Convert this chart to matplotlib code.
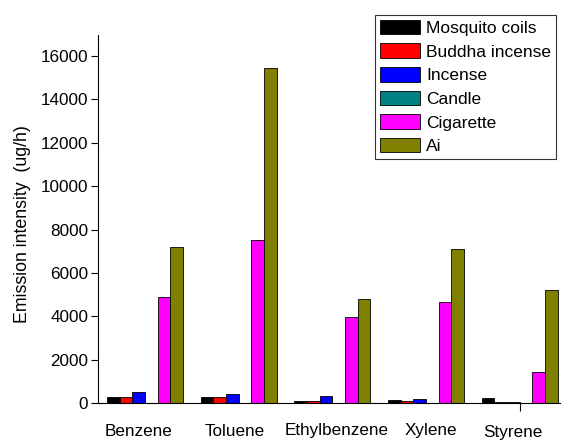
import matplotlib
matplotlib.use("Agg")
import matplotlib.pyplot as plt
import matplotlib.transforms as mtransforms
import numpy as np

plt.rcParams['font.family'] = ['Liberation Sans', 'DejaVu Sans']
plt.rcParams['font.size'] = 12.5

categories = ["Benzene", "Toluene", "Ethylbenzene", "Xylene", "Styrene"]
series = ["Mosquito coils", "Buddha incense", "Incense", "Candle", "Cigarette", "Ai"]
mosquito = [290, 290, 90, 140, 215]
buddha = [290, 260, 100, 80, 60]
incense = [490, 400, 300, 170, 60]
candle = [15, 15, 10, 10, 15]
cigarette = [4900, 7500, 3950, 4650, 1450]
ai = [7200, 15450, 4800, 7100, 5200]
values = [mosquito, buddha, incense, candle, cigarette, ai]
colors = ["#000000", "#FF0000", "#0000FF", "#008080", "#FF00FF", "#808000"]
yticks = [0, 2000, 4000, 6000, 8000, 10000, 12000, 14000, 16000]

W, H = 563, 441
fig = plt.figure(figsize=(W / 100, H / 100), dpi=100)
ax = fig.add_axes([98 / W, 1 - 403 / H, (560 - 98) / W, (403 - 35) / H])

x = np.arange(len(categories))
bw = 0.135
for i, (name, vals, c) in enumerate(zip(series, values, colors)):
    ax.bar(x + (i - 2.5) * bw, vals, bw, color=c, edgecolor='black',
           linewidth=0.6, label=name, zorder=2)

ax.set_xlim(-0.5, 4.43)
ax.set_ylim(0, 16970)
ax.set_yticks(yticks)
ax.set_yticklabels([str(v) for v in yticks], fontsize=12.3)
ax.tick_params(axis='y', direction='out', length=5, width=0.8, pad=2)
ax.set_xticks([])
ax.set_xticks([4], minor=True)
ax.tick_params(axis='x', which='minor', direction='out', length=6, width=0.8, labelbottom=False)
ax.spines['top'].set_visible(False)
ax.spines['right'].set_visible(False)
ax.spines['left'].set_linewidth(0.8)
ax.spines['bottom'].set_linewidth(0.8)

trans = mtransforms.blended_transform_factory(ax.transData, fig.transFigure)
label_off = [-0.07, -0.04, 0.045, 0.05, -0.07]
label_y = [431, 431, 431, 431, 433]
for xi, cat, off, ly in zip(x, categories, label_off, label_y):
    ax.text(xi + off, 1 - ly / H, cat, transform=trans, ha='center', va='center', fontsize=12.3)

ax.set_ylabel("Emission intensity  (ug/h)", fontsize=12.8)
ax.yaxis.set_label_coords(-0.144, 0.486)

leg = ax.legend(loc='upper right', bbox_to_anchor=(556 / W, 1 - 15 / H),
                bbox_transform=fig.transFigure, borderaxespad=0,
                fancybox=False, frameon=True, handlelength=2.3, handleheight=0.92,
                labelspacing=0.42, handletextpad=0.35, borderpad=0.28, fontsize=12.5)
leg.get_frame().set_edgecolor('black')
leg.get_frame().set_linewidth(0.8)

fig.savefig("out.png", dpi=100)
